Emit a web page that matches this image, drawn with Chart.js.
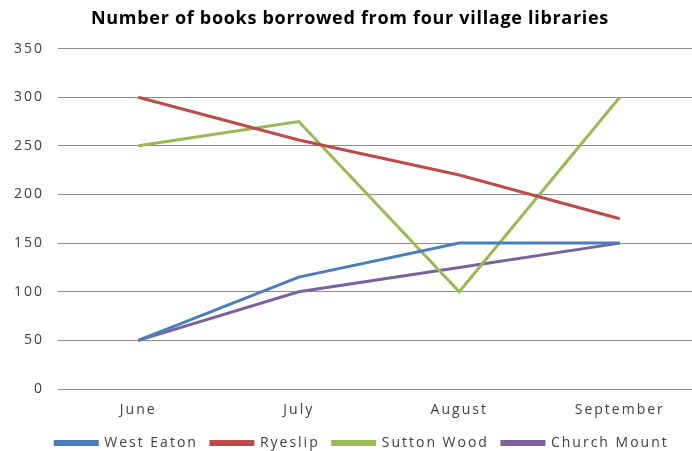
<!DOCTYPE html>
<html>
<head>
<meta charset="utf-8">
<script src="https://cdn.jsdelivr.net/npm/chart.js@4"></script>
<style>
  html, body { margin: 0; padding: 0; background: #ffffff; overflow: hidden; }
  #wrap { width: 692px; height: 451px; position: relative; overflow: hidden; }
  #c { position: absolute; left: 0; top: 0; }
</style>
</head>
<body>
<div id="wrap"><canvas id="c" width="700" height="460"></canvas></div>
<script>
// Monthly loans per library
const months = ['June', 'July', 'August', 'September'];
const westEaton = [50, 115, 150, 150];
const ryeslip = [300, 256, 220, 175];
const suttonWood = [250, 275, 100, 300];
const churchMount = [50, 100, 125, 150];
const yTicks = [0, 50, 100, 150, 200, 250, 300, 350];

const seriesNames = ['West Eaton', 'Ryeslip', 'Sutton Wood', 'Church Mount'];
const seriesValues = [westEaton, ryeslip, suttonWood, churchMount];
const seriesColors = ['#4a7ebb', '#be4b48', '#98b954', '#7d60a0'];

const labelFont = { family: 'Open Sans', size: 14 };
const LABEL_SPACING = '2px';
const TITLE_SPACING = '0.7px';

// Wide letter spacing for the axis and legend text; the title gets its own
// spacing, and the legend row is nudged right of the canvas centre.
const textSpacing = {
  id: 'textSpacing',
  afterInit(chart) {
    const ctx = chart.ctx;
    const title = chart.titleBlock;
    if (title) {
      const draw = title.draw.bind(title);
      title.draw = function () {
        ctx.save();
        ctx.letterSpacing = TITLE_SPACING;
        draw();
        ctx.restore();
      };
    }
    const legend = chart.legend;
    if (legend) {
      const draw = legend.draw.bind(legend);
      legend.draw = function () {
        ctx.save();
        ctx.translate(12, 0);
        draw();
        ctx.restore();
      };
    }
  },
  beforeLayout(chart) { chart.ctx.letterSpacing = LABEL_SPACING; },
  beforeDraw(chart) { chart.ctx.letterSpacing = LABEL_SPACING; }
};

new Chart(document.getElementById('c'), {
  type: 'line',
  data: {
    labels: months,
    datasets: seriesNames.map((name, i) => ({
      label: name,
      data: seriesValues[i],
      borderColor: seriesColors[i],
      backgroundColor: seriesColors[i],
      borderWidth: 3,
      pointRadius: 0,
      tension: 0,
      fill: false
    }))
  },
  plugins: [textSpacing],
  options: {
    responsive: false,
    animation: false,
    devicePixelRatio: 1,
    layout: { padding: { top: 0, right: 0, left: 0, bottom: 0 } },
    plugins: {
      title: {
        display: true,
        text: 'Number of books borrowed from four village libraries',
        color: '#000000',
        font: { family: 'Open Sans', size: 18, weight: 'bold' },
        padding: { top: 8, bottom: 19 }
      },
      legend: {
        position: 'bottom',
        labels: {
          color: '#404040',
          font: labelFont,
          boxWidth: 42,
          boxHeight: 3,
          padding: 13
        }
      },
      tooltip: { enabled: false }
    },
    scales: {
      x: {
        offset: true,
        afterFit: (scale) => { scale.height = 34; },
        grid: { display: false, drawTicks: false },
        border: { display: false },
        ticks: { color: '#404040', font: labelFont, padding: 13 }
      },
      y: {
        min: 0,
        max: 350,
        afterBuildTicks: (scale) => { scale.ticks = yTicks.map(v => ({ value: v })); },
        afterFit: (scale) => { scale.width = 58; },
        grid: { color: '#8c8c8c', lineWidth: 1, drawTicks: false },
        border: { display: false },
        ticks: { color: '#404040', font: labelFont, padding: 14 }
      }
    }
  }
});
</script>
</body>
</html>
